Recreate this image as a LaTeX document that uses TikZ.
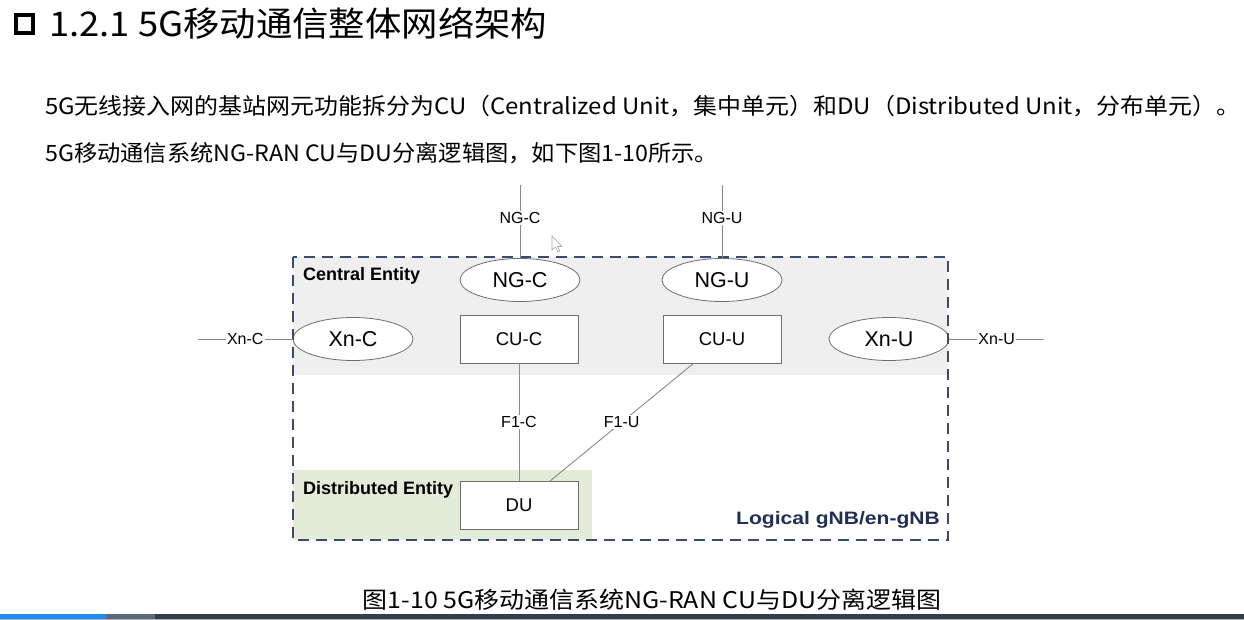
\documentclass[tikz,border=0pt]{standalone}
\usepackage{fontspec}
\setmainfont{Liberation Sans}
\newfontfamily\cjk{Noto Sans CJK SC}
\usetikzlibrary{shapes.geometric,calc}
\definecolor{navy}{HTML}{3B4B6E}
\definecolor{linkgray}{HTML}{8A8A8A}
\definecolor{centralfill}{HTML}{EFEFEF}
\definecolor{distfill}{HTML}{E3EBD9}
\definecolor{textnavy}{HTML}{1F2F55}
\definecolor{barblue}{HTML}{1C8CF0}
\definecolor{barmid}{HTML}{5E6780}
\definecolor{bardark}{HTML}{343D50}
\tikzset{
  ell/.style={ellipse, draw=linkgray!80!black, fill=white, line width=0.8pt,
    minimum width=120pt, minimum height=43pt, inner sep=0pt,
    font=\fontsize{21.5}{21.5}\selectfont},
  unitbox/.style={rectangle, draw=linkgray!80!black, fill=white, line width=0.8pt,
    minimum width=118pt, minimum height=48pt, inner sep=0pt,
    font=\fontsize{18.5}{18.5}\selectfont},
  lbl/.style={fill=white, inner sep=1.5pt, font=\fontsize{16}{16}\selectfont},
  link/.style={draw=linkgray, line width=0.9pt},
  entity/.style={anchor=west, inner sep=0pt, font=\fontsize{18}{18}\selectfont\bfseries},
  body/.style={anchor=west, inner sep=0pt, font=\cjk\fontsize{22.5}{22.5}\selectfont}
}
\begin{document}
\begin{tikzpicture}[x=1pt,y=-1pt]
\useasboundingbox (0,0) rectangle (1244,620);
\fill[white] (0,0) rectangle (1244,620);

% heading
\draw[line width=4.4pt] (16.2,15.2) rectangle (32.8,32.8);
\node[anchor=west, inner sep=0pt, font=\cjk\fontsize{34}{34}\selectfont] (title) at (49,23) {\scalebox{1.07}[1]{1.2.1 5G移动通信整体网络架构}};

% body text
\node[body] (para1) at (45,106) {\scalebox{1.064}[1]{5G无线接入网的基站网元功能拆分为CU（Centralized Unit，集中单元）和DU（Distributed Unit，分布单元）。}};
\node[body] (para2) at (45,153) {\scalebox{1.033}[1]{5G移动通信系统NG-RAN CU与DU分离逻辑图，如下图1-10所示。}};

% entity areas
\fill[centralfill] (293,257) rectangle (948,375);
\fill[distfill] (293,470) rectangle (592,540);
\node[entity] (central) at (303,276) {Central Entity};
\node[entity] (distributed) at (303,490) {Distributed Entity};

% functions
\node[ell] (ngc) at (520,280) {NG-C};
\node[ell] (ngu) at (722,280) {NG-U};
\node[ell] (xnc) at (353,339) {Xn-C};
\node[ell] (xnu) at (889,339) {Xn-U};
\node[unitbox] (cuc) at (519,339) {CU-C};
\node[unitbox] (cuu) at (722,339) {CU-U};
\node[unitbox] (du) at (519,505.5) {DU};

% logical node boundary
\draw[navy, line width=1.8pt, dash pattern=on 11pt off 7pt] (293,257) rectangle (948,540);
\node[anchor=east, inner sep=0pt, text=textnavy, font=\fontsize{18}{18}\selectfont\bfseries] (gnb) at (940,520) {\scalebox{1.17}[1]{Logical gNB/en-gNB}};

% external interfaces
\coordinate (ngcEnd) at (520,185);
\coordinate (nguEnd) at (722,185);
\coordinate (xncEnd) at (198,339);
\coordinate (xnuEnd) at (1044,339);
\draw[link] (ngcEnd) -- node[lbl, pos=0.45] {NG-C} (ngc.north);
\draw[link] (nguEnd) -- node[lbl, pos=0.45] {NG-U} (ngu.north);
\draw[link] (xncEnd) -- node[lbl] {Xn-C} (xnc.west);
\draw[link] (xnu.east) -- node[lbl] {Xn-U} (xnuEnd);

% F1 interfaces
\draw[link] (cuc.south) -- node[lbl] {F1-C} (du.north);
\coordinate (f1uTop) at ($(cuu.south west)!0.26!(cuu.south east)$);
\coordinate (f1uBot) at ($(du.north west)!0.76!(du.north east)$);
\draw[link] (f1uTop) -- node[lbl] {F1-U} (f1uBot);

% caption
\node[anchor=center, inner sep=0pt, font=\cjk\fontsize{23}{23}\selectfont] (caption) at (652,600) {\scalebox{1.085}[1]{图1-10 5G移动通信系统NG-RAN CU与DU分离逻辑图}};

% pointer
\draw[gray!70, fill=white, line width=0.6pt] (552,236) -- (552,250) -- (555.5,247) -- (558,252) -- (560,251) -- (557.5,246.5) -- (562,246.5) -- cycle;

% player progress bar
\fill[barblue] (0,614) rectangle (106,618.5);
\fill[barmid] (106,614) rectangle (155,618.5);
\fill[bardark] (155,614) rectangle (1244,618.5);
\fill[gray!60] (0,618.5) rectangle (1244,620);
\end{tikzpicture}
\end{document}
